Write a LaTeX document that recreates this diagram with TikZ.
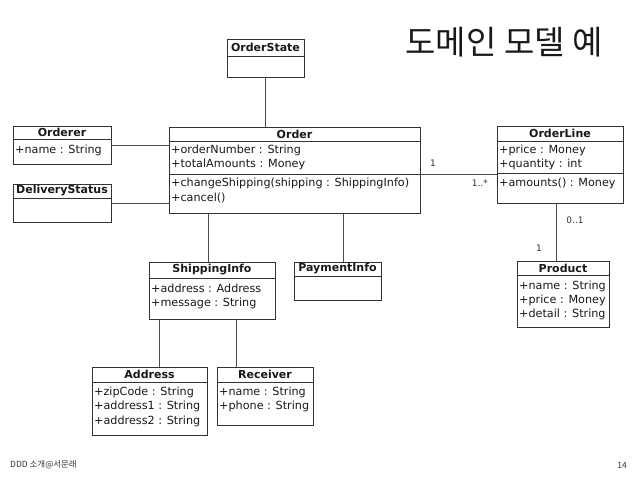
\documentclass[tikz,border=0pt]{standalone}
\usepackage{fontspec}
\setmainfont{DejaVu Sans}
\newfontfamily\krfont{Noto Sans CJK KR}
\begin{document}
\begin{tikzpicture}[x=1pt,y=-1pt,
  clsbox/.style={draw=black!80, line width=0.9pt, fill=white, inner sep=0pt, outer sep=0pt},
  sepline/.style={draw=black!80, line width=0.8pt},
  conn/.style={draw=black!70, line width=0.9pt},
  hdr/.style={font=\fontsize{11}{13}\selectfont\bfseries, text=black!90, inner sep=0pt},
  attr/.style={font=\fontsize{11.2}{13}\selectfont, text=black!90, inner sep=0pt, anchor=west},
  mult/.style={font=\fontsize{9}{11}\selectfont, text=black!80, inner sep=0pt},
  foot/.style={font=\krfont\fontsize{8.5}{10}\selectfont, text=black!80, inner sep=0pt}
]
\useasboundingbox (0,0) rectangle (638,479);

% box macro: name, x1, y1, x2, y2
\newcommand\umlbox[5]{%
  \node[clsbox, minimum width={(#4-#2)*1pt}, minimum height={(#5-#3)*1pt}] (#1) at ({(#2+#4)/2},{(#3+#5)/2}) {};}
\newcommand\umlsep[3]{\draw[sepline] (#1,#3) -- (#2,#3);}

% Title
\node[font=\krfont\fontsize{33}{36}\selectfont, text=black!90, inner sep=0pt] (title) at (504,42) {도메인 모델 예};

% OrderState
\umlbox{orderstate}{227}{39}{304}{77}
\umlsep{227}{304}{56}
\node[hdr] (orderstate-h) at (265.5,47.5) {OrderState};

% Orderer
\umlbox{orderer}{13}{126}{111}{164}
\umlsep{13}{111}{139}
\node[hdr] (orderer-h) at (62,132.5) {Orderer};
\node[attr] (orderer-a1) at (15,150) {+name : String};

% DeliveryStatus
\umlbox{delivery}{13}{184}{111}{222}
\umlsep{13}{111}{198}
\node[hdr] (delivery-h) at (62,191) {DeliveryStatus};

% Order
\umlbox{order}{169}{127}{420}{213}
\umlsep{169}{420}{141}
\umlsep{169}{420}{174}
\node[hdr] (order-h) at (294.5,134) {Order};
\node[attr] (order-a1) at (171,150) {+orderNumber : String};
\node[attr] (order-a2) at (171,164) {+totalAmounts : Money};
\node[attr] (order-o1) at (171,183) {+changeShipping(shipping : ShippingInfo)};
\node[attr] (order-o2) at (171,198) {+cancel()};

% OrderLine
\umlbox{orderline}{497}{126}{623}{203}
\umlsep{497}{623}{141}
\umlsep{497}{623}{173}
\node[hdr] (orderline-h) at (560,133.5) {OrderLine};
\node[attr] (orderline-a1) at (499,150) {+price : Money};
\node[attr] (orderline-a2) at (499,164) {+quantity : int};
\node[attr] (orderline-o1) at (499,183) {+amounts() : Money};

% Product
\umlbox{product}{517}{261}{609}{327}
\umlsep{517}{609}{275}
\node[hdr] (product-h) at (563,268.5) {Product};
\node[attr] (product-a1) at (519,286) {+name : String};
\node[attr] (product-a2) at (519,300) {+price : Money};
\node[attr] (product-a3) at (519,314) {+detail : String};

% ShippingInfo
\umlbox{shipping}{149}{262}{275}{319}
\umlsep{149}{275}{278}
\node[hdr] (shipping-h) at (212,270) {ShippingInfo};
\node[attr] (shipping-a1) at (151,288) {+address : Address};
\node[attr] (shipping-a2) at (151,303) {+message : String};

% PaymentInfo
\umlbox{payment}{294}{262}{381}{300}
\umlsep{294}{381}{276}
\node[hdr] (payment-h) at (337.5,269) {PaymentInfo};

% Address
\umlbox{address}{92}{367}{207}{435}
\umlsep{92}{207}{382}
\node[hdr] (address-h) at (149.5,374.5) {Address};
\node[attr] (address-a1) at (94,392) {+zipCode : String};
\node[attr] (address-a2) at (94,406) {+address1 : String};
\node[attr] (address-a3) at (94,421) {+address2 : String};

% Receiver
\umlbox{receiver}{217}{367}{313}{425}
\umlsep{217}{313}{382}
\node[hdr] (receiver-h) at (265,374.5) {Receiver};
\node[attr] (receiver-a1) at (219,392) {+name : String};
\node[attr] (receiver-a2) at (219,406) {+phone : String};

% connector guide coordinates
\coordinate (yOL) at (0,174);
\coordinate (xSI) at (208,0);
\coordinate (xPI) at (343,0);
\coordinate (xPR) at (556,0);
\coordinate (xAD) at (159,0);
\coordinate (xRC) at (236,0);

% connectors
\draw[conn] (orderstate.south) -- (orderstate.south |- order.north);
\draw[conn] (orderer.east) -- (orderer.east -| order.west);
\draw[conn] (delivery.east) -- (delivery.east -| order.west);
\draw[conn] (order.east |- yOL) -- (orderline.west |- yOL);
\draw[conn] (order.south -| xSI) -- (shipping.north -| xSI);
\draw[conn] (order.south -| xPI) -- (payment.north -| xPI);
\draw[conn] (orderline.south -| xPR) -- (product.north -| xPR);
\draw[conn] (shipping.south -| xAD) -- (address.north -| xAD);
\draw[conn] (shipping.south -| xRC) -- (receiver.north -| xRC);

% multiplicities
\node[mult] (m1) at (433,163) {1};
\node[mult, anchor=east] (m2) at (488,183) {1..*};
\node[mult] (m3) at (575,220) {0..1};
\node[mult] (m4) at (539,248) {1};

% footer
\node[foot, anchor=west] (footl) at (10,465) {DDD 소개@서문래};
\node[foot, anchor=east] (footr) at (627,465) {14};
\end{tikzpicture}
\end{document}
